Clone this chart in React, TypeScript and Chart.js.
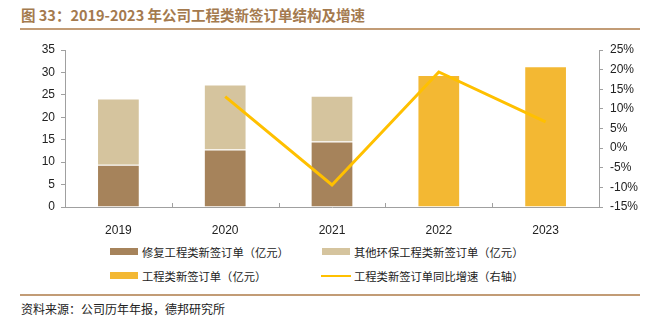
import React, { useEffect, useRef } from "react";
import { Chart, registerables } from "chart.js";

Chart.register(...registerables);

const years = ["2019", "2020", "2021", "2022", "2023"];
const repairOrders = [9.4, 12.8, 14.6, null, null];
const otherOrders = [14.8, 14.5, 10.2, null, null];
const totalOrders = [null, null, null, 29.4, 31.4];
const growthPct = [null, 13.1, -9.4, 19.4, 6.7];

const leftTicksMax = 35;
const rightMin = -15;
const rightMax = 25;

const legendLabels = [
  "修复工程类新签订单（亿元）",
  "其他环保工程类新签订单（亿元）",
  "工程类新签订单（亿元）",
  "工程类新签订单同比增速（右轴）",
];

const C_REPAIR = "#A6835B";
const C_OTHER = "#D5C49E";
const C_TOTAL = "#F3B833";
const C_LINE = "#FFC000";
const AXIS = "#A0A0A0";

const innerTicks = {
  id: "innerTicks",
  afterDatasetsDraw(chart: any) {
    const xs = chart.scales.x;
    const ctx = chart.ctx;
    const bottom = chart.chartArea.bottom;
    ctx.save();
    ctx.strokeStyle = AXIS;
    ctx.lineWidth = 1;
    for (let i = 1; i < years.length; i++) {
      const x = Math.round(xs.getPixelForValue(i - 0.5)) + 0.5;
      ctx.beginPath();
      ctx.moveTo(x, bottom);
      ctx.lineTo(x, bottom - 4);
      ctx.stroke();
    }
    ctx.restore();
  },
};

export default function App() {
  const ref = useRef<HTMLCanvasElement>(null);
  useEffect(() => {
    const tickFont = { family: "'Liberation Sans', Arial, sans-serif", size: 12 };
    const chart = new Chart(ref.current!, {
      type: "bar",
      data: {
        labels: years,
        datasets: [
          {
            type: "bar",
            label: legendLabels[0],
            data: repairOrders,
            backgroundColor: C_REPAIR,
            borderColor: "rgba(255,255,255,0.35)",
            borderWidth: 1,
            yAxisID: "y",
            order: 1,
          },
          {
            type: "bar",
            label: legendLabels[1],
            data: otherOrders,
            backgroundColor: C_OTHER,
            borderColor: "rgba(255,255,255,0.35)",
            borderWidth: 1,
            yAxisID: "y",
            order: 1,
          },
          {
            type: "bar",
            label: legendLabels[2],
            data: totalOrders,
            backgroundColor: C_TOTAL,
            borderColor: "rgba(255,255,255,0.35)",
            borderWidth: 1,
            yAxisID: "y",
            order: 1,
          },
          {
            type: "line",
            label: legendLabels[3],
            data: growthPct,
            borderColor: C_LINE,
            backgroundColor: C_LINE,
            borderWidth: 3,
            pointRadius: 0,
            tension: 0,
            yAxisID: "y1",
            order: 0,
          } as any,
        ],
      },
      options: {
        responsive: false,
        animation: false,
        devicePixelRatio: 1,
        layout: { padding: { top: 50, left: 0, right: 0, bottom: 0 } },
        datasets: { bar: { categoryPercentage: 0.4, barPercentage: 1 } },
        plugins: { legend: { display: false }, tooltip: { enabled: false } },
        scales: {
          x: {
            stacked: true,
            grid: { display: false },
            border: { display: true, color: AXIS, width: 1 },
            ticks: { color: "#222", font: tickFont, padding: 8 },
            afterFit: (s: any) => {
              s.height = 33;
            },
          },
          y: {
            stacked: true,
            position: "left",
            min: 0,
            max: leftTicksMax,
            ticks: { stepSize: 5, color: "#222", font: tickFont, padding: 6 },
            grid: { drawOnChartArea: false, drawTicks: true, tickLength: 4, color: AXIS },
            border: { display: true, color: AXIS, width: 1 },
            afterFit: (s: any) => {
              s.width = 65;
            },
          },
          y1: {
            position: "right",
            min: rightMin,
            max: rightMax,
            ticks: {
              stepSize: 5,
              color: "#222",
              font: tickFont,
              padding: 7,
              callback: (v: any) => v + "%",
            },
            grid: { drawOnChartArea: false, drawTicks: true, tickLength: 4, color: AXIS },
            border: { display: true, color: AXIS, width: 1 },
            afterFit: (s: any) => {
              s.width = 54;
            },
          },
        },
      },
      plugins: [innerTicks],
    });
    return () => chart.destroy();
  }, []);

  const cjk = "'Noto Sans CJK SC', 'Noto Sans', sans-serif";
  const legendText: React.CSSProperties = {
    position: "absolute",
    fontFamily: cjk,
    fontSize: 11.3,
    color: "#222",
    lineHeight: "14px",
    whiteSpace: "nowrap",
  };

  return (
    <div
      style={{
        position: "absolute",
        left: 0,
        top: 0,
        width: 653,
        height: 321,
        background: "#fff",
        overflow: "hidden",
      }}
    >
      <div
        style={{
          position: "absolute",
          left: 21,
          top: 5,
          fontFamily: cjk,
          fontWeight: 700,
          fontSize: 14.5,
          lineHeight: "20px",
          color: "#A47A4E",
          whiteSpace: "nowrap",
        }}
      >
        图 33：2019-2023 年公司工程类新签订单结构及增速
      </div>
      <div
        style={{
          position: "absolute",
          left: 20,
          top: 28,
          width: 620,
          height: 2,
          background: "#C29C76",
        }}
      />
      <canvas
        ref={ref}
        width={653}
        height={240}
        style={{ position: "absolute", left: 0, top: 0, width: 653, height: 240 }}
      />
      {/* legend */}
      <div style={{ position: "absolute", left: 110, top: 248, width: 28, height: 7, background: C_REPAIR }} />
      <div style={{ ...legendText, left: 142, top: 245 }}>{legendLabels[0]}</div>
      <div style={{ position: "absolute", left: 322, top: 248, width: 28, height: 7, background: C_OTHER }} />
      <div style={{ ...legendText, left: 354, top: 245 }}>{legendLabels[1]}</div>
      <div style={{ position: "absolute", left: 110, top: 272, width: 28, height: 7, background: C_TOTAL }} />
      <div style={{ ...legendText, left: 142, top: 269 }}>{legendLabels[2]}</div>
      <div style={{ position: "absolute", left: 321, top: 275, width: 30, height: 2, background: C_LINE }} />
      <div style={{ ...legendText, left: 354, top: 269 }}>{legendLabels[3]}</div>
      {/* footer */}
      <div
        style={{
          position: "absolute",
          left: 20,
          top: 294,
          width: 620,
          height: 2,
          background: "#C29C76",
        }}
      />
      <div
        style={{
          position: "absolute",
          left: 21,
          top: 301,
          fontFamily: cjk,
          fontSize: 12,
          lineHeight: "16px",
          color: "#222",
          whiteSpace: "nowrap",
        }}
      >
        资料来源：公司历年年报，德邦研究所
      </div>
    </div>
  );
}
